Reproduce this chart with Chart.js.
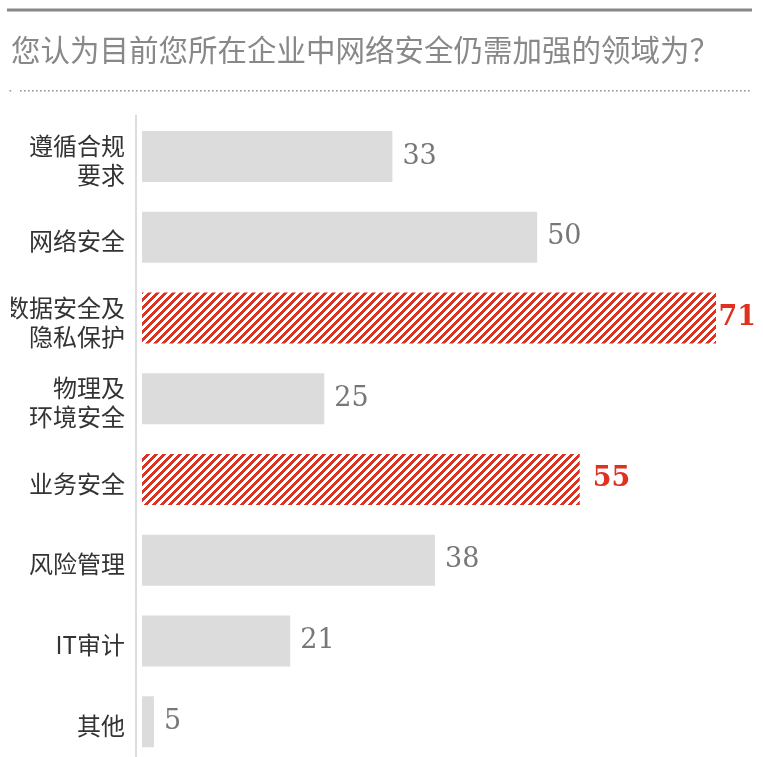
<!DOCTYPE html>
<html>
<head>
<meta charset="utf-8">
<script src="https://cdn.jsdelivr.net/npm/chart.js@4.4.1/dist/chart.umd.min.js"></script>
<style>
  html, body { margin: 0; padding: 0; background: #fff; overflow: hidden; width: 763px; height: 757px; }
  #wrap { width: 763px; height: 757px; overflow: hidden; }
</style>
</head>
<body>
<div id="wrap"><canvas id="c" width="763" height="762" style="width:763px;height:762px"></canvas></div>
<script>
// ---- data ----
const titleText = "您认为目前您所在企业中网络安全仍需加强的领域为？";
const categories = [
  ["遵循合规", "要求"],
  "网络安全",
  ["数据安全及", "隐私保护"],
  ["物理及", "环境安全"],
  "业务安全",
  "风险管理",
  "IT审计",
  "其他"
];
const values = [33, 50, 71, 25, 55, 38, 21, 5];
const highlighted = [false, false, true, false, true, false, false, false];

// ---- styles ----
const GRAY_BAR = "#dcdcdc";
const RED = "#e0301e";

function makeHatch() {
  const p = document.createElement("canvas");
  p.width = 8; p.height = 8;
  const g = p.getContext("2d");
  g.fillStyle = "#ffffff";
  g.fillRect(0, 0, 8, 8);
  g.fillStyle = RED;
  for (let i = 0; i < 8; i++) {
    for (let j = 0; j < 8; j++) {
      if (((i + j) % 8) < 4) g.fillRect(i, j, 1, 1);
    }
  }
  return g.createPattern(p, "repeat");
}
const hatch = makeHatch();

const decoPlugin = {
  id: "deco",
  beforeDraw(chart) {
    const ctx = chart.ctx;
    ctx.save();
    ctx.fillStyle = "#888888";
    ctx.fillRect(7, 8.5, 745, 3);
    ctx.fillStyle = "#9a9a9a";
    ctx.fillRect(9.5, 90, 1.6, 1.6);
    for (let x = 20; x <= 751; x += 4) {
      ctx.fillRect(x, 90, 1.6, 1.6);
    }
    ctx.restore();
  }
};

const valuePlugin = {
  id: "vals",
  afterDatasetsDraw(chart) {
    const ctx = chart.ctx;
    const meta = chart.getDatasetMeta(0);
    ctx.save();
    ctx.textAlign = "left";
    ctx.textBaseline = "alphabetic";
    meta.data.forEach((bar, i) => {
      const hl = highlighted[i];
      ctx.font = (hl ? "bold " : "") + "27px 'DejaVu Serif'";
      ctx.fillStyle = hl ? RED : "#777777";
      const txt = String(values[i]);
      let x = bar.x + (hl ? 13 : 10);
      const w = ctx.measureText(txt).width;
      if (x + w > 756) x = 756 - w;
      ctx.fillText(txt, x, bar.y + 7);
    });
    ctx.restore();
  }
};

new Chart(document.getElementById("c"), {
  type: "bar",
  data: {
    labels: categories,
    datasets: [{
      data: values,
      base: 3.6,
      backgroundColor: values.map((v, i) => highlighted[i] ? hatch : GRAY_BAR),
      borderWidth: 0,
      categoryPercentage: 0.632,
      barPercentage: 1
    }]
  },
  options: {
    indexAxis: "y",
    responsive: false,
    animation: false,
    devicePixelRatio: 1,
    layout: { padding: { left: 11, right: 11, top: 0, bottom: 0 } },
    plugins: {
      legend: { display: false },
      tooltip: { enabled: false },
      title: {
        display: true,
        text: titleText,
        align: "start",
        color: "#888888",
        font: { family: "'Noto Sans CJK SC'", size: 29.5, weight: "normal", lineHeight: 1.2 },
        padding: { top: 32.5, bottom: 48.3 }
      }
    },
    scales: {
      x: {
        display: false,
        min: 2.89,
        max: 75.23
      },
      y: {
        type: "category",
        position: "left",
        grid: { display: false, drawTicks: false },
        border: { display: true, color: "#dddddd", width: 2 },
        ticks: {
          color: "#333333",
          padding: 11,
          labelOffset: 4,
          font: { family: "'Noto Sans CJK SC'", size: 24, lineHeight: 1.2 }
        },
        afterFit(scale) {
          scale.width = 125;
          scale.paddingTop = 0;
          scale.paddingBottom = 0;
        }
      }
    }
  },
  plugins: [decoPlugin, valuePlugin]
});
</script>
</body>
</html>
